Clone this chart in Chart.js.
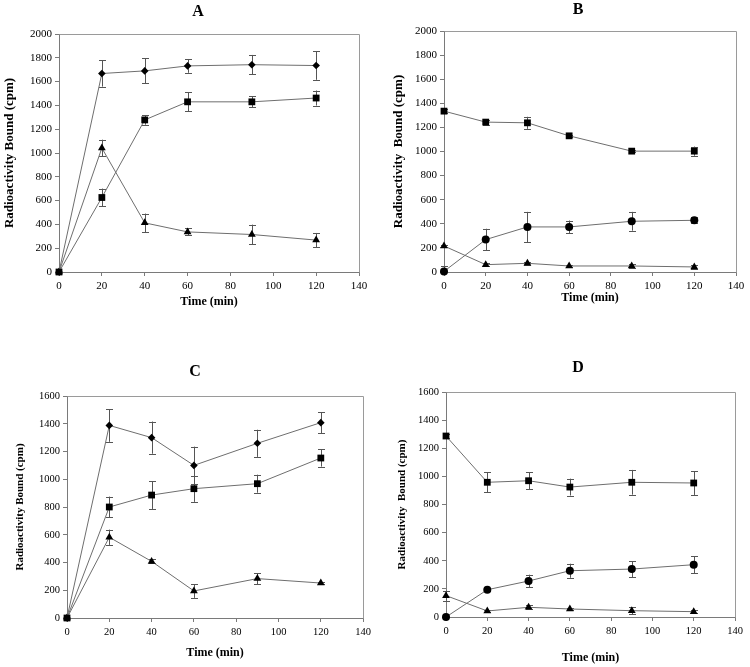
<!DOCTYPE html>
<html>
<head>
<meta charset="utf-8">
<script src="https://cdn.jsdelivr.net/npm/chart.js@4/dist/chart.umd.min.js"></script>
<style>
  html, body { margin: 0; padding: 0; background: #fff; overflow: hidden; }
  canvas { position: absolute; }
</style>
</head>
<body>
<canvas id="cA" width="375" height="325" style="left:0px;top:0px"></canvas>
<canvas id="cB" width="375" height="325" style="left:375px;top:0px"></canvas>
<canvas id="cC" width="375" height="334" style="left:0px;top:333px"></canvas>
<canvas id="cD" width="375" height="334" style="left:375px;top:333px"></canvas>
<script>
// ---- data (time in minutes) ----
const times = [0, 20, 40, 60, 90, 120];
const xTicks = [0, 20, 40, 60, 80, 100, 120, 140];

// Panel A
const aDiamond     = [0, 1668, 1690, 1732, 1742, 1735];
const aDiamondErr  = [0, 110, 105, 58, 82, 120];
const aSquare      = [0, 626, 1278, 1430, 1430, 1462];
const aSquareErr   = [0, 75, 40, 80, 45, 63];
const aTriangle    = [0, 1042, 413, 337, 315, 268];
const aTriangleErr = [0, 70, 78, 30, 83, 60];

// Panel B
const bSquare      = [1335, 1244, 1238, 1130, 1003, 1003];
const bSquareErr   = [15, 20, 50, 10, 10, 38];
const bCircle      = [5, 269, 374, 374, 421, 429];
const bCircleErr   = [45, 90, 125, 53, 78, 25];
const bTriangle    = [216, 61, 72, 50, 50, 42];
const bTriangleErr = [10, 15, 15, 8, 15, 15];

// Panel C
const cDiamond     = [0, 1388, 1300, 1100, 1259, 1408];
const cDiamondErr  = [0, 118, 116, 135, 98, 75];
const cSquare      = [0, 800, 886, 932, 968, 1153];
const cSquareErr   = [0, 75, 100, 95, 65, 62];
const cTriangle    = [0, 582, 408, 195, 284, 252];
const cTriangleErr = [0, 55, 15, 50, 40, 10];

// Panel D
const dSquare      = [1287, 958, 969, 924, 958, 953];
const dSquareErr   = [15, 70, 60, 60, 88, 85];
const dCircle      = [0, 194, 256, 329, 341, 372];
const dCircleErr   = [0, 10, 45, 50, 57, 60];
const dTriangle    = [152, 43, 69, 57, 45, 38];
const dTriangleErr = [35, 8, 15, 10, 25, 10];

// ---- styling ----
const SERIF = "'Liberation Serif', 'Times New Roman', serif";
Chart.defaults.font.family = SERIF;
Chart.defaults.color = '#000';

const LINE = '#6e6e6e';
const AXIS = '#7a7a7a';

const markers = {
  diamond:  { pointStyle: 'rectRot',  pointRadius: 3.8 },
  square:   { pointStyle: 'rect',     pointRadius: 4.8 },
  triangle: { pointStyle: 'triangle', pointRadius: 4.5 },
  circle:   { pointStyle: 'circle',   pointRadius: 4 }
};

function ds(values, errors, kind) {
  return Object.assign({
    data: times.map((t, i) => ({ x: t, y: values[i] })),
    errors: errors,
    borderColor: LINE,
    borderWidth: 1,
    backgroundColor: '#000',
    pointBackgroundColor: '#000',
    pointBorderColor: '#000',
    pointBorderWidth: 0,
    pointHoverRadius: 4,
    tension: 0,
    fill: false,
    clip: false
  }, markers[kind]);
}

const errorBars = {
  id: 'errorBars',
  beforeDatasetsDraw(chart) {
    const ctx = chart.ctx;
    const xs = chart.scales.x, ys = chart.scales.y;
    ctx.save();
    ctx.strokeStyle = '#555';
    ctx.lineWidth = 1;
    chart.data.datasets.forEach(d => {
      if (!d.errors) return;
      d.data.forEach((p, i) => {
        const e = d.errors[i];
        if (!e) return;
        const x = Math.round(xs.getPixelForValue(p.x)) + 0.5;
        const yTop = ys.getPixelForValue(p.y + e);
        const yBot = ys.getPixelForValue(Math.max(p.y - e, ys.min));
        ctx.beginPath();
        ctx.moveTo(x, yTop); ctx.lineTo(x, yBot);
        ctx.moveTo(x - 3.5, Math.round(yTop) + 0.5); ctx.lineTo(x + 3.5, Math.round(yTop) + 0.5);
        if (p.y - e >= ys.min) {
          ctx.moveTo(x - 3.5, Math.round(yBot) + 0.5); ctx.lineTo(x + 3.5, Math.round(yBot) + 0.5);
        }
        ctx.stroke();
      });
    });
    ctx.restore();
  }
};

const frame = {
  id: 'frame',
  beforeDatasetsDraw(chart) {
    const a = chart.chartArea, ctx = chart.ctx;
    ctx.save();
    ctx.strokeStyle = '#9a9a9a';
    ctx.lineWidth = 1;
    ctx.beginPath();
    ctx.moveTo(Math.round(a.left) + 0.5, Math.round(a.top) + 0.5);
    ctx.lineTo(Math.round(a.right) + 0.5, Math.round(a.top) + 0.5);
    ctx.lineTo(Math.round(a.right) + 0.5, Math.round(a.bottom) + 0.5);
    ctx.stroke();
    ctx.restore();
  }
};

const panelLetter = {
  id: 'panelLetter',
  afterDraw(chart, args, opts) {
    const ctx = chart.ctx;
    ctx.save();
    ctx.font = 'bold 16px ' + SERIF;
    ctx.fillStyle = '#000';
    ctx.textAlign = 'center';
    ctx.textBaseline = 'middle';
    ctx.fillText(opts.text, opts.x, opts.y);
    ctx.restore();
  }
};

function makeChart(id, cfg) {
  const canvas = document.getElementById(id);
  const W = canvas.width, H = canvas.height;
  return new Chart(canvas, {
    type: 'line',
    data: { datasets: cfg.datasets },
    plugins: [errorBars, frame, panelLetter],
    options: {
      responsive: false,
      animation: false,
      devicePixelRatio: 1,
      layout: { padding: { left: 0, top: cfg.area.top, right: W - cfg.area.right, bottom: 0 } },
      plugins: {
        legend: { display: false },
        tooltip: { enabled: false },
        panelLetter: { text: cfg.letter, x: cfg.letterX, y: cfg.letterY }
      },
      scales: {
        x: {
          type: 'linear', min: 0, max: 140,
          afterBuildTicks: s => { s.ticks = xTicks.map(v => ({ value: v })); },
          afterFit: s => { s.height = H - cfg.area.bottom; },
          grid: { drawOnChartArea: false, drawTicks: true, tickLength: 4, color: AXIS },
          border: { color: AXIS, width: 1 },
          ticks: { font: { size: cfg.tickSize, family: SERIF }, color: '#000', padding: 4, maxRotation: 0,
                   callback: v => String(v) },
          title: { display: true, text: 'Time (min)', font: { size: 12, weight: 'bold', family: SERIF }, color: '#000',
                   padding: { top: 0, bottom: cfg.xTitlePad } }
        },
        y: {
          type: 'linear', min: 0, max: cfg.yMax,
          afterBuildTicks: s => { s.ticks = cfg.yTicks.map(v => ({ value: v })); },
          afterFit: s => { s.width = cfg.area.left; },
          grid: { drawOnChartArea: false, drawTicks: true, tickLength: 4, color: AXIS },
          border: { color: AXIS, width: 1 },
          ticks: { font: { size: cfg.tickSize, family: SERIF }, color: '#000', padding: 3,
                   callback: v => String(v) },
          title: { display: true, text: cfg.yTitle, font: { size: cfg.yTitleSize, weight: 'bold', family: SERIF }, color: '#000',
                   padding: { top: cfg.yTitlePad, bottom: 0 } }
        }
      }
    }
  });
}

const yTicks2000 = [0, 200, 400, 600, 800, 1000, 1200, 1400, 1600, 1800, 2000];
const yTicks1600 = [0, 200, 400, 600, 800, 1000, 1200, 1400, 1600];

makeChart('cA', {
  area: { left: 59, right: 359, top: 34, bottom: 272 },
  letter: 'A', letterX: 198, letterY: 12,
  yMax: 2000, yTicks: yTicks2000, tickSize: 11,
  yTitle: 'Radioactivity Bound (cpm)', yTitleSize: 13, yTitlePad: 2,
  xTitlePad: 16,
  datasets: [ds(aDiamond, aDiamondErr, 'diamond'), ds(aSquare, aSquareErr, 'square'), ds(aTriangle, aTriangleErr, 'triangle')]
});

makeChart('cB', {
  area: { left: 69, right: 361, top: 31, bottom: 272 },
  letter: 'B', letterX: 203, letterY: 10,
  yMax: 2000, yTicks: yTicks2000, tickSize: 11,
  yTitle: 'Radioactivity  Bound (cpm)', yTitleSize: 13, yTitlePad: 16,
  xTitlePad: 20,
  datasets: [ds(bSquare, bSquareErr, 'square'), ds(bCircle, bCircleErr, 'circle'), ds(bTriangle, bTriangleErr, 'triangle')]
});

makeChart('cC', {
  area: { left: 67, right: 364, top: 63, bottom: 285 },
  letter: 'C', letterX: 195, letterY: 39,
  yMax: 1600, yTicks: yTicks1600, tickSize: 10.5,
  yTitle: 'Radioactivity Bound (cpm)', yTitleSize: 11, yTitlePad: 14,
  xTitlePad: 7,
  datasets: [ds(cDiamond, cDiamondErr, 'diamond'), ds(cSquare, cSquareErr, 'square'), ds(cTriangle, cTriangleErr, 'triangle')]
});

makeChart('cD', {
  area: { left: 71, right: 360, top: 59, bottom: 284 },
  letter: 'D', letterX: 203, letterY: 35,
  yMax: 1600, yTicks: yTicks1600, tickSize: 10.5,
  yTitle: 'Radioactivity  Bound (cpm)', yTitleSize: 11, yTitlePad: 21,
  xTitlePad: 2,
  datasets: [ds(dSquare, dSquareErr, 'square'), ds(dCircle, dCircleErr, 'circle'), ds(dTriangle, dTriangleErr, 'triangle')]
});
</script>
</body>
</html>
